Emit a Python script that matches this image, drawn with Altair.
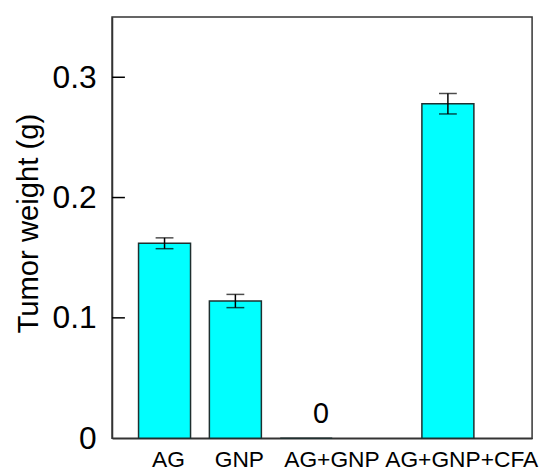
import altair as alt
import pandas as pd

groups = ["AG", "GNP", "AG+GNP", "AG+GNP+CFA"]
weights = [0.162, 0.114, 0.0, 0.278]
errors = [0.0045, 0.0055, 0.0, 0.0085]
y_ticks = [0, 0.1, 0.2, 0.3]
# category slots along x (one empty spacer slot before the last group)
slot_order = ["AG", "GNP", "AG+GNP", " ", "AG+GNP+CFA"]

df = pd.DataFrame({"group": groups, "weight": weights, "err": errors})
tick_df = pd.DataFrame({"t": y_ticks[1:]})

FONT = "Liberation Sans"

x_enc = alt.X(
    "group:N",
    sort=slot_order,
    scale=alt.Scale(domain=slot_order, paddingInner=0.266, paddingOuter=0.598, align=0.313),
    axis=alt.Axis(
        title=None,
        labelFont=FONT,
        labelFontSize=23,
        labelColor="black",
        labelAngle=0,
        ticks=False,
        tickSize=0,
        labelPadding=11,
        domainColor="#333",
        domainWidth=1.5,
        labelOffset={
            "condition": [
                {"test": "datum.value === 'AG+GNP'", "value": 26},
                {"test": "datum.value === 'AG+GNP+CFA'", "value": 14},
            ],
            "value": 4,
        },
    ),
)

y_scale = alt.Scale(domain=[0, 0.35], nice=False, zero=True)

y_enc = alt.Y(
    "weight:Q",
    scale=y_scale,
    axis=alt.Axis(
        values=y_ticks,
        format=".1~f",
        title="Tumor weight (g)",
        titleFont=FONT,
        titleFontSize=29.5,
        titleFontWeight="normal",
        titleColor="black",
        titlePadding=9,
        titleY=208,
        labelFont=FONT,
        labelFontSize=32,
        labelColor="black",
        labelPadding=16,
        ticks=False,
        tickSize=0,
        grid=False,
        domainColor="#333",
        domainWidth=1.5,
    ),
)

base = alt.Chart(df)

bars = base.mark_bar(color="#00FFFF", stroke="#1f2f2f", strokeWidth=1.5).encode(x=x_enc, y=y_enc)

eb = base.transform_filter("datum.err > 0").transform_calculate(
    lo="datum.weight - datum.err", hi="datum.weight + datum.err"
)
rule = eb.mark_rule(color="black", strokeWidth=1.5).encode(
    x=alt.X("group:N", sort=slot_order), y=alt.Y("lo:Q"), y2="hi:Q"
)
cap_hi = eb.mark_tick(color="black", thickness=1.5, size=18).encode(
    x=alt.X("group:N", sort=slot_order), y=alt.Y("hi:Q")
)
cap_lo = eb.mark_tick(color="black", thickness=1.5, size=18).encode(
    x=alt.X("group:N", sort=slot_order), y=alt.Y("lo:Q")
)

zero_text = base.transform_filter("datum.weight == 0").mark_text(
    font=FONT, fontSize=29, color="black", dx=15, dy=-15, baseline="alphabetic"
).encode(
    x=alt.X("group:N", sort=slot_order),
    y=alt.Y("weight:Q"),
    text=alt.Text("weight:Q", format="d"),
)

inner_ticks = alt.Chart(tick_df).mark_rule(color="black", strokeWidth=1.5).encode(
    y=alt.Y("t:Q"), x=alt.value(0), x2=alt.value(13)
)

chart = (
    alt.layer(bars, rule, cap_hi, cap_lo, zero_text, inner_ticks)
    .properties(
        width=424,
        height=425,
        autosize=alt.AutoSizeParams(type="none"),
        padding={"left": 105, "top": 7, "right": 10, "bottom": 35},
    )
    .configure_view(stroke="#333", strokeWidth=1.5)
)

chart.save("out.html", embed_options={"renderer": "svg", "actions": False})
